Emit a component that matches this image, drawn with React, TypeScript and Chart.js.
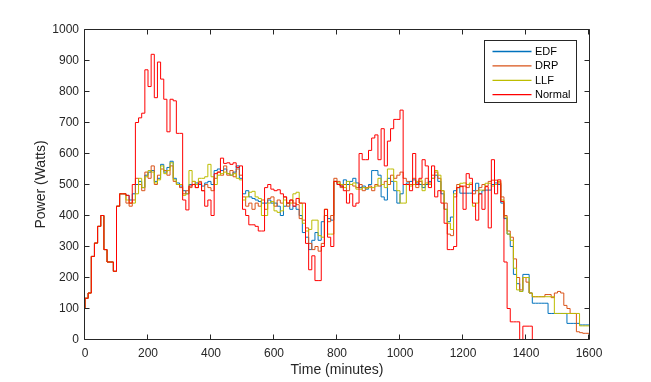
import React, { useEffect, useRef } from "react";
import { Chart, registerables } from "chart.js";

Chart.register(...registerables);

// ---------- data ----------
const minutes: number[] = Array.from({ length: 161 }, (_, i) => i * 10);

const normalW = [
  100, 133, 150, 268, 311, 365, 400, 290, 250, 250,
  220, 430, 470, 470, 465, 440, 500, 700, 715, 730,
  870, 816, 920, 780, 895, 840, 775, 670, 775, 770,
  665, 665, 450, 418, 495, 500, 490, 505, 480, 430,
  450, 400, 535, 540, 585, 568, 570, 565, 570, 555,
  560, 420, 400, 370, 370, 365, 350, 350, 490, 500,
  485, 480, 483, 470, 460, 440, 450, 430, 455, 440,
  440, 310, 225, 270, 190, 190, 300, 420, 330, 300,
  510, 500, 495, 480, 440, 470, 430, 440, 600, 580,
  580, 610, 650, 660, 580, 680, 560, 640, 680, 710,
  710, 740, 500, 500, 480, 600, 500, 520, 580, 560,
  490, 560, 460, 480, 440, 375, 290, 290, 300, 490,
  495, 420, 535, 520, 440, 385, 470, 420, 493, 360,
  580, 470, 515, 445, 250, 100, 57, 57, 57, 0,
  43, 43, 43, 0, 0, 0, 0, 0, 0, 0,
  0, 0, 0, 0, 0, 0, 0, 0, 0, 0,
  0,
];

const edfW = [
  100, 133, 150, 268, 311, 365, 400, 290, 250, 250,
  220, 430, 470, 470, 465, 450, 470, 500, 510, 490,
  530, 540, 545, 510, 520, 565, 540, 555, 575, 520,
  505, 495, 480, 470, 500, 500, 505, 500, 495, 505,
  510, 500, 545, 550, 545, 550, 535, 530, 540, 560,
  520, 470, 480, 460, 455, 450, 445, 440, 440, 450,
  440, 440, 430, 400, 430, 440, 420, 430, 420, 400,
  345, 330, 290, 320, 345, 320, 380, 400, 390, 385,
  510, 500, 495, 515, 500, 510, 520, 505, 490, 495,
  485, 500, 545, 545, 530, 460, 450, 520, 510, 480,
  440, 470, 500, 505, 510, 515, 505, 500, 490, 500,
  510, 520, 530, 510, 470, 420, 380, 395, 480, 490,
  472, 472, 472, 472, 480, 504, 470, 480, 482, 482,
  500, 505, 500, 440, 390, 340, 300, 210, 180, 155,
  210, 210, 150, 117, 117, 117, 117, 117, 84, 84,
  84, 84, 84, 84, 52, 52, 52, 52, 47, 47,
  47,
];

const drpW = [
  100, 133, 150, 268, 311, 365, 400, 290, 250, 250,
  220, 430, 470, 470, 440, 430, 450, 520, 500, 480,
  540, 520, 560, 500, 530, 550, 545, 530, 560, 510,
  500, 490, 470, 480, 490, 510, 490, 510, 480, 500,
  490, 480, 520, 540, 530, 560, 530, 545, 525, 550,
  530, 460, 430, 440, 420, 440, 430, 450, 420, 455,
  460, 430, 450, 440, 460, 430, 450, 440, 435, 390,
  385, 360, 310, 290, 300, 285, 310, 400, 380, 400,
  520, 510, 490, 500, 480, 500, 495, 490, 500, 480,
  490, 495, 480, 500, 495, 500, 510, 500, 530, 520,
  530, 540, 520, 510, 500, 520, 490, 510, 500, 520,
  505, 530, 540, 520, 480, 440, 340, 335, 460, 500,
  493, 495, 490, 500, 470, 480, 490, 500, 495, 510,
  514, 514, 505, 460, 400, 350, 330, 260, 200, 160,
  200, 185, 150, 138, 138, 138, 138, 145, 145, 135,
  150, 155, 150, 110, 100, 84, 84, 25, 22, 20,
  20,
];

const llfW = [
  100, 133, 150, 268, 311, 365, 400, 290, 250, 250,
  220, 430, 470, 470, 450, 440, 440, 470, 520, 490,
  525, 545, 540, 505, 515, 560, 535, 545, 570, 515,
  500, 500, 465, 470, 545, 510, 500, 520, 520, 525,
  565, 525, 500, 530, 535, 540, 535, 530, 535, 520,
  515, 450, 460, 475, 478, 460, 455, 400, 400, 440,
  445, 415, 410, 415, 450, 440, 440, 470, 475, 440,
  375, 350, 355, 385, 385, 335, 330, 420, 340, 340,
  510, 505, 500, 490, 510, 500, 505, 485, 485, 490,
  488, 490, 490, 495, 520, 500, 490, 550, 550, 510,
  480, 440, 440, 500, 495, 500, 510, 515, 480, 505,
  500, 520, 545, 530, 480, 420, 375, 355, 470, 490,
  504, 505, 500, 505, 430, 440, 482, 482, 504, 504,
  495, 500, 510, 450, 395, 340, 320, 230, 160, 155,
  200, 200, 150, 138, 138, 138, 138, 138, 138, 138,
  84, 84, 84, 84, 84, 84, 84, 84, 44, 44,
  44,
];

const seriesNames = ["EDF", "DRP", "LLF", "Normal"];
const seriesColors = ["#0072BD", "#D95319", "#BDBD00", "#FF0000"];
const xTicks = [0, 200, 400, 600, 800, 1000, 1200, 1400, 1600];
const yTicks = [0, 100, 200, 300, 400, 500, 600, 700, 800, 900, 1000];
const xTitle = "Time (minutes)";
const yTitle = "Power (Watts)";

const FONT = '"Liberation Sans", Arial, Helvetica, sans-serif';
const AXIS_COLOR = "#262626";

const matlabPlugin = {
  id: "matlabAxes",
  afterDatasetsDraw(chart: any) {
    const { ctx, chartArea: ca, scales } = chart;
    const xs = scales.x;
    const ys = scales.y;
    const L = Math.floor(ca.left) - 0.5;
    const R = Math.floor(ca.right) + 0.5;
    const T = Math.floor(ca.top) + 0.5;
    const B = Math.floor(ca.bottom) + 0.5;
    const tl = 5;
    ctx.save();
    ctx.strokeStyle = AXIS_COLOR;
    ctx.lineWidth = 1;
    ctx.beginPath();
    ctx.rect(L, T, R - L, B - T);
    for (const v of xTicks) {
      const p = Math.round(xs.getPixelForValue(v)) - 0.5;
      ctx.moveTo(p, B);
      ctx.lineTo(p, B - tl);
      ctx.moveTo(p, T);
      ctx.lineTo(p, T + tl);
    }
    for (const v of yTicks) {
      const p = Math.floor(ys.getPixelForValue(v)) + 0.5;
      ctx.moveTo(L, p);
      ctx.lineTo(L + tl, p);
      ctx.moveTo(R, p);
      ctx.lineTo(R - tl, p);
    }
    ctx.stroke();

    // legend (MATLAB style, inside the axes, top right)
    const lx = 484.5;
    const ly = 40.5;
    const lw = 92;
    const lh = 62;
    ctx.fillStyle = "#ffffff";
    ctx.fillRect(lx, ly, lw, lh);
    ctx.strokeStyle = AXIS_COLOR;
    ctx.strokeRect(lx, ly, lw, lh);
    ctx.font = `11px ${FONT}`;
    ctx.textBaseline = "middle";
    ctx.textAlign = "left";
    seriesNames.forEach((name, i) => {
      const yy = 51.5 + i * 14.4;
      ctx.strokeStyle = seriesColors[i];
      ctx.lineWidth = 1.3;
      ctx.beginPath();
      ctx.moveTo(492.5, yy);
      ctx.lineTo(531.5, yy);
      ctx.stroke();
      ctx.fillStyle = "#000000";
      ctx.fillText(name, 535, yy + 0.5);
    });
    ctx.restore();
  },
};

export default function App() {
  const ref = useRef<HTMLCanvasElement | null>(null);

  useEffect(() => {
    if (!ref.current) return;
    const allSeries = [edfW, drpW, llfW, normalW];
    const chart = new Chart(ref.current, {
      type: "line",
      data: {
        datasets: allSeries.map((vals, i) => ({
          label: seriesNames[i],
          data: minutes.map((t, k) => ({ x: t, y: vals[k] })),
          borderColor: seriesColors[i],
          backgroundColor: seriesColors[i],
          borderWidth: 1,
          pointRadius: 0,
          stepped: "after" as const,
          fill: false,
          order: 4 - i,
        })),
      },
      options: {
        responsive: false,
        animation: false,
        events: [],
        layout: { padding: { left: 0, right: 62, top: 29.5, bottom: 0 } },
        plugins: {
          legend: { display: false },
          tooltip: { enabled: false },
          title: { display: false },
        },
        scales: {
          x: {
            type: "linear",
            min: 0,
            max: 1600,
            afterBuildTicks: (s: any) => {
              s.ticks = xTicks.map((v) => ({ value: v }));
            },
            afterFit: (s: any) => {
              s.height = 42.5;
            },
            grid: { display: false, drawTicks: false, tickLength: 0 },
            border: { display: false },
            ticks: {
              color: AXIS_COLOR,
              font: { family: FONT, size: 12 },
              padding: 7,
              maxRotation: 0,
              autoSkip: false,
              callback: (v: any) => String(v),
            },
            title: {
              display: true,
              text: xTitle,
              color: AXIS_COLOR,
              font: { family: FONT, size: 14 },
              padding: { top: 0, bottom: 3 },
            },
          },
          y: {
            type: "linear",
            min: 0,
            max: 1000,
            afterBuildTicks: (s: any) => {
              s.ticks = yTicks.map((v) => ({ value: v }));
            },
            afterFit: (s: any) => {
              s.width = 85;
            },
            grid: { display: false, drawTicks: false, tickLength: 0 },
            border: { display: false },
            ticks: {
              color: AXIS_COLOR,
              font: { family: FONT, size: 12 },
              padding: 6,
              autoSkip: false,
              callback: (v: any) => String(v),
            },
            title: {
              display: true,
              text: yTitle,
              color: AXIS_COLOR,
              font: { family: FONT, size: 14 },
              padding: { top: 33, bottom: 0 },
            },
          },
        },
      },
      plugins: [matlabPlugin],
    });
    return () => chart.destroy();
  }, []);

  return (
    <div style={{ position: "absolute", left: 0, top: 0, width: 651, height: 382, background: "#ffffff" }}>
      <canvas ref={ref} width={651} height={382} style={{ width: 651, height: 382, display: "block" }} />
    </div>
  );
}
